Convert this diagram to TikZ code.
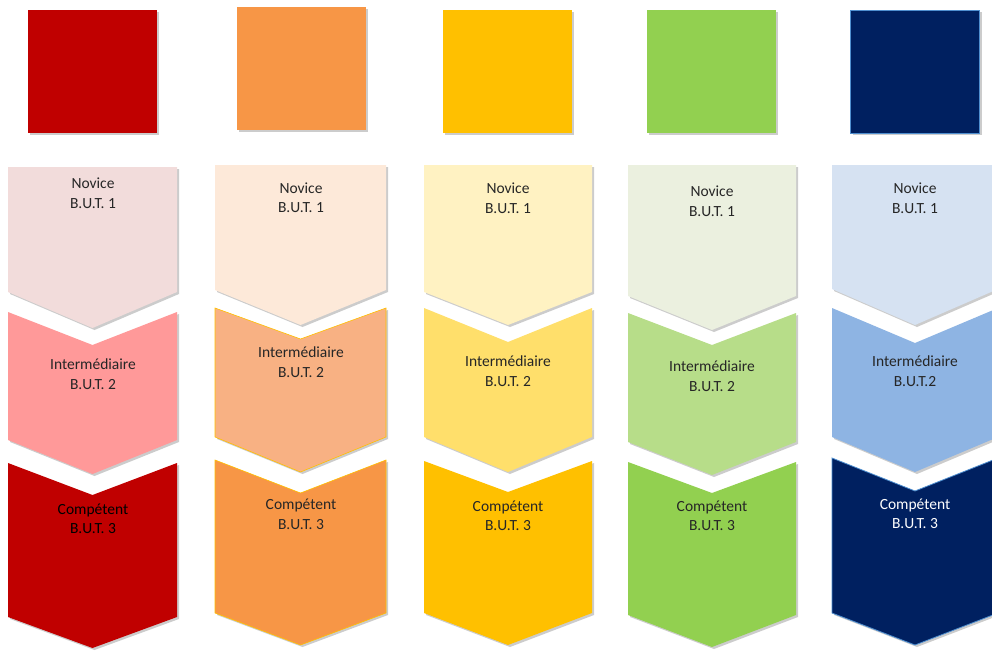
\documentclass[tikz,border=0pt]{standalone}
\usepackage{fontspec}
\setmainfont{Carlito}
\usetikzlibrary{shadows}

\definecolor{rougeF}{HTML}{C00000}
\definecolor{rougeM}{HTML}{FF9999}
\definecolor{rougeC}{HTML}{F2DCDB}
\definecolor{orangeF}{HTML}{F79646}
\definecolor{orangeM}{HTML}{F8B183}
\definecolor{orangeC}{HTML}{FDE9D9}
\definecolor{jauneF}{HTML}{FFC000}
\definecolor{jauneM}{HTML}{FFDF6B}
\definecolor{jauneC}{HTML}{FFF2C2}
\definecolor{vertF}{HTML}{92D050}
\definecolor{vertM}{HTML}{B7DD89}
\definecolor{vertC}{HTML}{EBF0DF}
\definecolor{bleuF}{HTML}{002060}
\definecolor{bleuM}{HTML}{8EB4E3}
\definecolor{bleuC}{HTML}{D6E2F2}
\definecolor{bleuBord}{HTML}{4F8FD0}
\definecolor{texte}{HTML}{262626}

\begin{document}
\begin{tikzpicture}[
 x=1pt,y=-1pt,
 ombre/.style={
  drop shadow={shadow xshift=2pt,shadow yshift=-2pt,opacity=.2,fill=black}
 },
 carre/.style={
  rectangle,
  ombre,
  minimum width=129pt,
  minimum height=123pt,
  inner sep=0pt
 },
 niveau/.style={
  align=center,
  text=texte,
  font=\fontsize{15.5}{19.5}\selectfont,
  inner sep=0pt
 }
]
 \useasboundingbox (0,0) rectangle (992,651);
 \clip (0,0) rectangle (992,651);

 % carres du haut
 \node[carre,fill=rougeF]  (s1) at (92.5,71.5) {};
 \node[carre,fill=orangeF] (s2) at (301,68.5) {};
 \node[carre,fill=jauneF]  (s3) at (507,71.5) {};
 \node[carre,fill=vertF]   (s4) at (711.5,71.5) {};
 \node[carre,fill=bleuF,draw=bleuBord,line width=.8pt] (s5) at (915,71.5) {};

 % colonne rouge
 \fill[ombre,rougeC] (8,167) -- ++(169,0) -- ++(0,125) -- ++(-84.5,36)
  -- ++(-84.5,-36) -- cycle;
 \fill[ombre,rougeM] (8,312) -- ++(84.5,33) -- ++(84.5,-33) -- ++(0,128)
  -- ++(-84.5,34) -- ++(-84.5,-34) -- cycle;
 \fill[ombre,rougeF] (8,463) -- ++(84.5,32) -- ++(84.5,-32) -- ++(0,154)
  -- ++(-84.5,31) -- ++(-84.5,-31) -- cycle;
 \node[niveau] (n1) at (93,193) {Novice\\B.U.T. 1};
 \node[niveau] (i1) at (93,374) {Intermédiaire\\B.U.T. 2};
 \node[niveau,text=black] (c1) at (93,519) {Compétent\\B.U.T. 3};

 % colonne orange
 \fill[ombre,orangeC] (215,165) -- ++(171,0) -- ++(0,125) -- ++(-85.5,35)
  -- ++(-85.5,-35) -- cycle;
 \filldraw[ombre,fill=orangeM,draw=jauneF,line width=.6pt] (215,308)
  -- ++(85.5,31) -- ++(85.5,-31) -- ++(0,129) -- ++(-85.5,35)
  -- ++(-85.5,-35) -- cycle;
 \filldraw[ombre,fill=orangeF,draw=jauneF,line width=.6pt] (215,460)
  -- ++(85.5,33) -- ++(85.5,-33) -- ++(0,153) -- ++(-85.5,32)
  -- ++(-85.5,-32) -- cycle;
 \node[niveau] (n2) at (301,197.5) {Novice\\B.U.T. 1};
 \node[niveau] (i2) at (301,362) {Intermédiaire\\B.U.T. 2};
 \node[niveau] (c2) at (301,514.5) {Compétent\\B.U.T. 3};

 % colonne jaune
 \fill[ombre,jauneC] (424,165) -- ++(168,0) -- ++(0,127) -- ++(-84,33)
  -- ++(-84,-33) -- cycle;
 \fill[ombre,jauneM] (424,308) -- ++(84,34) -- ++(84,-34) -- ++(0,129)
  -- ++(-84,35) -- ++(-84,-35) -- cycle;
 \fill[ombre,jauneF] (424,461) -- ++(84,31) -- ++(84,-31) -- ++(0,152)
  -- ++(-84,32) -- ++(-84,-32) -- cycle;
 \node[niveau] (n3) at (508,198) {Novice\\B.U.T. 1};
 \node[niveau] (i3) at (508,371) {Intermédiaire\\B.U.T. 2};
 \node[niveau] (c3) at (508,516) {Compétent\\B.U.T. 3};

 % colonne verte
 \fill[ombre,vertC] (628,165) -- ++(168,0) -- ++(0,131) -- ++(-84,34)
  -- ++(-84,-34) -- cycle;
 \fill[ombre,vertM] (628,313) -- ++(84,32) -- ++(84,-32) -- ++(0,129)
  -- ++(-84,33) -- ++(-84,-33) -- cycle;
 \fill[ombre,vertF] (628,462) -- ++(84,31) -- ++(84,-31) -- ++(0,153)
  -- ++(-84,32) -- ++(-84,-32) -- cycle;
 \node[niveau] (n4) at (712,201) {Novice\\B.U.T. 1};
 \node[niveau] (i4) at (712,376) {Intermédiaire\\B.U.T. 2};
 \node[niveau] (c4) at (712,516) {Compétent\\B.U.T. 3};

 % colonne bleue
 \fill[ombre,bleuC] (832,165) -- ++(166,0) -- ++(0,124) -- ++(-83,36)
  -- ++(-83,-36) -- cycle;
 \fill[ombre,bleuM] (832,308) -- ++(83,35) -- ++(83,-35) -- ++(0,129)
  -- ++(-83,35) -- ++(-83,-35) -- cycle;
 \filldraw[ombre,fill=bleuF,draw=bleuBord,line width=.8pt] (832,458)
  -- ++(83,33) -- ++(83,-33) -- ++(0,155) -- ++(-83,32)
  -- ++(-83,-32) -- cycle;
 \node[niveau] (n5) at (915,198) {Novice\\B.U.T. 1};
 \node[niveau] (i5) at (915,371) {Intermédiaire\\B.U.T.2};
 \node[niveau,text=white] (c5) at (915,514) {Compétent\\B.U.T. 3};
\end{tikzpicture}
\end{document}
